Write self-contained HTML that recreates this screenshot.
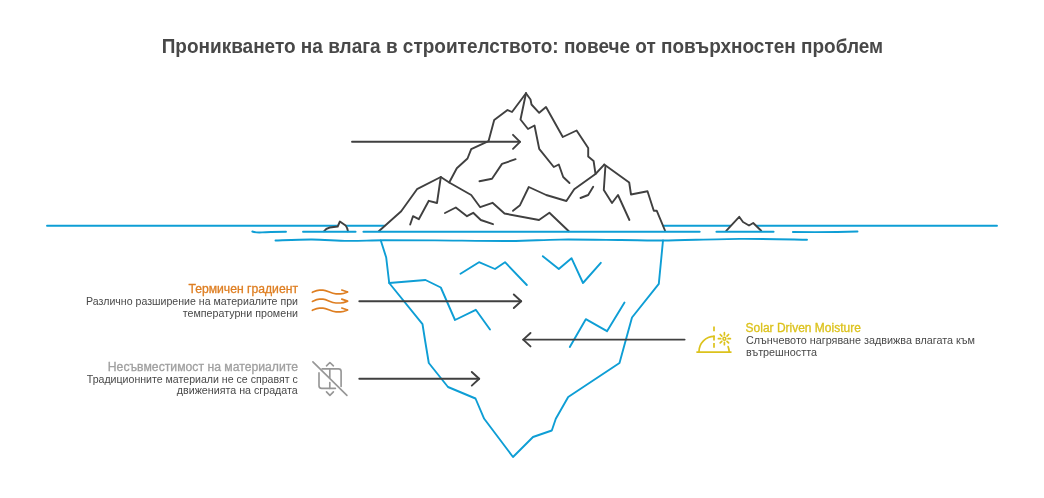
<!DOCTYPE html>
<html lang="bg">
<head>
<meta charset="utf-8">
<title>Проникването на влага в строителството</title>
<style>
html,body{margin:0;padding:0;background:#fff;}
body{width:1044px;height:498px;overflow:hidden;position:relative;font-family:"Liberation Sans",sans-serif;}
svg{position:absolute;left:0;top:0;display:block;will-change:transform;}
text{font-family:"Liberation Sans",sans-serif;}
.dk{fill:none;stroke:#404040;stroke-width:1.9;stroke-linejoin:round;stroke-linecap:round;}
.bl{fill:none;stroke:#0e9ed5;stroke-width:1.9;stroke-linejoin:round;stroke-linecap:round;}
.or{fill:none;stroke:#de7e21;stroke-width:1.7;stroke-linejoin:round;stroke-linecap:round;}
.gr{fill:none;stroke:#979797;stroke-width:1.65;stroke-linejoin:round;stroke-linecap:round;}
.ye{fill:none;stroke:#dcc21c;stroke-width:1.7;stroke-linejoin:round;stroke-linecap:round;}
.title{font-size:19.4px;font-weight:bold;fill:#484848;}
.h{font-size:12px;}
.b{font-size:10.3px;fill:#484848;}
</style>
</head>
<body>
<svg width="1044" height="498" viewBox="0 0 1044 498">
<rect width="1044" height="498" fill="#ffffff"/>

<!-- title -->
<text class="title" x="161.7" y="52.5" textLength="721.4" lengthAdjust="spacingAndGlyphs">Проникването на влага в строителството: повече от повърхностен проблем</text>

<!-- water lines -->
<g class="bl">
<path d="M47 225.8H384.5"/>
<path d="M663.3 225.8H997"/>
</g>

<!-- iceberg above water -->
<g class="dk">
<!-- left outline -->
<path d="M526 93.2L512 112L507.5 110L494.2 120L488.5 141.2L471.2 149.2L467.5 158.5L456.8 168.2L449.2 182.5"/>
<!-- left peak -->
<path d="M378.8 231.2L401.2 211.2L417 189.2L440.8 177L449.2 182.5L471.2 195L480.2 207.2L492.5 202.8L504.5 213.5L539 220L549.4 212.8L568.8 231.2"/>
<path d="M440.8 177L437 203L428.8 200.8L418.8 219.2L413 216.2L410.2 224.5"/>
<path d="M445 213L455.8 207.5L467 216.2L473.2 212.8L480.8 220L493 224.2"/>
<!-- right outline from peak -->
<path d="M526 93.2L530.5 99.5L531.5 104.5L539.2 112.8L546 107L562.8 137L576.6 130.5L588.2 148L588.2 156.6L593.6 161L595.5 173.8"/>
<!-- inner from peak -->
<path d="M526 93.2L520.5 119.5L528 129L534.5 125.5L539.2 148.8L553.8 167L558.8 164.5L563.2 177L569.5 183"/>
<path d="M515.6 159.2L502 163.9L492 178.8L479.5 181.2"/>
<!-- middle line to right peak -->
<path d="M513 210.8L520 205.2L528.8 187L546.2 195L566.4 201L574.2 189.2L595.5 174L604.2 164.6"/>
<path d="M604.2 164.6L629.2 182.5L631 194.5L647.5 191.2L653.8 210.8L656.8 210.8L665 230.5"/>
<path d="M605.4 166.2L603.8 190L612 203L618 195L629.4 220"/>
<path d="M593.2 186.8L588.2 195L580.5 198"/>
<!-- small bergs -->
<path style="fill:#fff" d="M726.2 230.8L739.2 216.8L743 222L749 225.5L753.2 223L761.2 230.8"/>
<path style="fill:#fff" d="M324 231.3Q326 228.2 329.8 227.5L337.7 226.5L339.9 221.5L345.6 225.5Q347.6 228 348 231.3"/>
</g>

<!-- underwater -->
<g class="bl">
<path d="M252.3 231.5Q256 232.8 262 232.4T286 231.8"/>
<path d="M303 231.8H355.6"/>
<path d="M363.4 231.8H699.7"/>
<path d="M716.4 231.8H773.6"/>
<path d="M792.9 232Q830 232.4 857.5 231.5"/>
<path d="M275.5 240.5C281.6 240.33 299.9 239.43 312 239.5C324.1 239.57 336.0 240.77 348 240.9C360.0 241.03 369.5 240.38 384 240.3C398.5 240.22 414.0 240.28 435 240.4C456.0 240.52 489.2 241.13 510 241.0C530.8 240.87 541.5 239.77 560 239.6C578.5 239.43 603.8 239.85 621 240.0C638.2 240.15 643.2 240.68 663 240.5C682.8 240.32 716.0 239.03 740 238.9C764.0 238.77 795.8 239.57 807 239.7"/>
<path d="M380.8 240.5L386.2 257.5L389.2 283L422.5 324.2L425 340L428.8 363L448 387L475.5 398.5L484.2 418.8L513 457L533 437L551.8 430.5L555.8 418.8L568.2 397L619.5 363L625.8 340L632 317.5L658.8 283.8L663 240.5"/>
<path d="M389.2 283L425.5 280L440.8 287.5L455 320L475.8 309.8L490 329.5"/>
<path d="M460.5 273.8L479 262.2L495 269L505 262.2L526.8 285"/>
<path d="M542.8 256.2L558.8 269L571.5 258.2L583 283L600.8 262.8"/>
<path d="M569.8 347L585.8 319.2L607 331.2L624.5 302.5"/>
</g>

<!-- arrows -->
<g class="dk">
<path d="M352 141.8H520"/><path d="M513 134.8L520 141.8L513 148.8"/>
<path d="M359.3 301.2H521.2"/><path d="M513.8 294.5L521.2 301.2L513.8 308"/>
<path d="M684.6 339.6H523.2"/><path d="M530.5 333L523.2 339.6L530.5 346.4"/>
<path d="M359.3 378.8H479.2"/><path d="M471.8 372L479.2 378.8L471.8 385.6"/>
</g>

<!-- wavy icon -->
<g class="or">
<path d="M312.4 292.3C315 291.1 317 290.1 319.5 290.1L323 290.1C327 290.1 331 293.9 336 293.9L340.5 293.9C343.5 293.9 345.5 292.9 347.6 292.0M341.8 290.0L347.6 292.0"/>
<path d="M312.4 301.4C315 300.2 317 299.2 319.5 299.2L323 299.2C327 299.2 331 303.0 336 303.0L340.5 303.0C343.5 303.0 345.5 302.0 347.6 301.1M341.8 299.1L347.6 301.1"/>
<path d="M312.4 310.3C315 309.1 317 308.1 319.5 308.1L323 308.1C327 308.1 331 311.9 336 311.9L340.5 311.9C343.5 311.9 345.5 310.9 347.6 310.0M341.8 308.0L347.6 310.0"/>
</g>

<!-- incompat icon -->
<g class="gr">
<path d="M312.9 361.9L346.9 395.4"/>
<path d="M322.1 368.9H338.5A2.6 2.6 0 0 1 341.1 371.5V386.4"/>
<path d="M335.4 388.4H321.6A2.6 2.6 0 0 1 319 385.8V372.9"/>
<path d="M329.8 368.9V377.8M329.8 382.6V388.4"/>
<path d="M326.5 365.8L329.9 362.5L333.4 365.8"/>
<path d="M326.5 391.9L329.9 395.4L333.4 391.9"/>
</g>

<!-- sun icon -->
<g class="ye">
<path d="M697 352.1H730.9"/>
<path d="M699 351.6A15.1 15.2 0 0 1 714.1 336.4"/>
<path d="M714 326.6V331.3M714 335.6V340.6M714 343.1V347.7" stroke-linecap="butt"/>
<path d="M728.1 346.6Q729.1 349.2 729.2 351.8"/>
<circle cx="724.4" cy="338.7" r="1.45" stroke-width="1.5"/>
<path d="M728.1 338.7L730.4 338.7M727.0 341.3L728.6 342.9M724.4 342.4L724.4 344.7M721.8 341.3L720.2 342.9M720.7 338.7L718.4 338.7M721.8 336.1L720.2 334.5M724.4 335.0L724.4 332.7M727.0 336.1L728.6 334.5"/>
</g>

<!-- texts -->
<text class="h" x="188.4" y="293" fill="#de7e21" stroke="#de7e21" stroke-width="0.3" textLength="109.6" lengthAdjust="spacingAndGlyphs">Термичен градиент</text>
<text class="b" x="86" y="305" textLength="212" lengthAdjust="spacingAndGlyphs">Различно разширение на материалите при</text>
<text class="b" x="182.8" y="316.8" textLength="115.2" lengthAdjust="spacingAndGlyphs">температурни промени</text>

<text class="h" x="107.8" y="370.8" fill="#a0a0a0" stroke="#a0a0a0" stroke-width="0.3" textLength="190.2" lengthAdjust="spacingAndGlyphs">Несъвместимост на материалите</text>
<text class="b" x="86.8" y="382.6" textLength="211" lengthAdjust="spacingAndGlyphs">Традиционните материали не се справят с</text>
<text class="b" x="176.8" y="394.4" textLength="121" lengthAdjust="spacingAndGlyphs">движенията на сградата</text>

<text class="h" x="745.6" y="331.8" fill="#dcc21c" stroke="#dcc21c" stroke-width="0.3" textLength="115.2" lengthAdjust="spacingAndGlyphs">Solar Driven Moisture</text>
<text class="b" x="746" y="343.7" textLength="229" lengthAdjust="spacingAndGlyphs">Слънчевото нагряване задвижва влагата към</text>
<text class="b" x="746" y="355.7" textLength="71" lengthAdjust="spacingAndGlyphs">вътрешността</text>
</svg>
</body>
</html>
